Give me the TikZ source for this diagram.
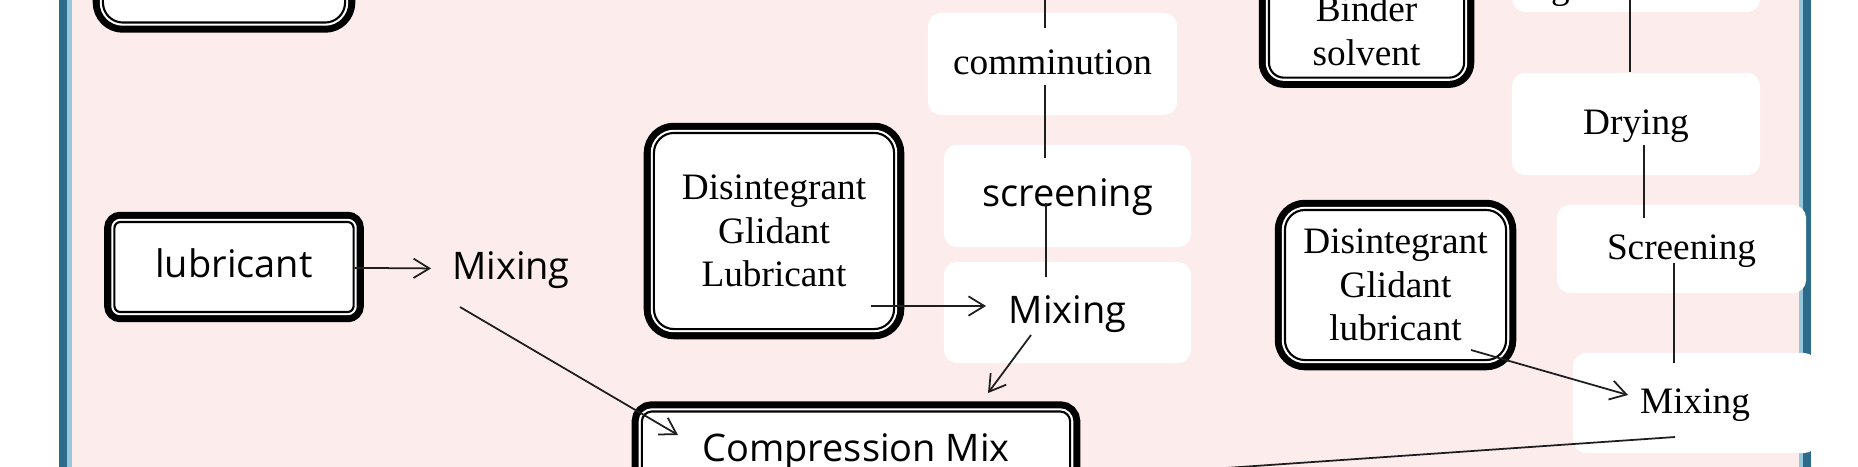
\documentclass[tikz,border=0pt]{standalone}
\usepackage{fontspec}
\setmainfont{Liberation Serif}
\newfontfamily\mixsans{Open Sans}
\usetikzlibrary{arrows.meta,calc}

\definecolor{framedark}{RGB}{44,108,138}
\definecolor{framelight}{RGB}{150,200,222}
\definecolor{panelpink}{RGB}{252,236,236}
\definecolor{ink}{RGB}{30,30,30}

\begin{document}
\begin{tikzpicture}[x=0.01cm,y=-0.01cm,
  serif/.style={font=\fontsize{10.6}{12.4}\selectfont},
  sans/.style={font=\mixsans\fontsize{10.8}{13}\selectfont},
  oneline/.style={text height=0.75em,text depth=0.15em},
  ingredient/.style={fill=white,draw=black,line width=0.6pt,
    preaction={draw=black,line width=5.8pt},
    preaction={draw=white,line width=1.8pt},
    rounded corners=#1,align=center},
  ingredient/.default=0.15cm,
  stage/.style={fill=white,rounded corners=0.13cm,inner sep=0pt,
    minimum width=2.48cm,minimum height=1.02cm},
  link/.style={draw=ink,line width=0.5pt},
  flow/.style={link,-{Straight Barb[length=4.5pt,width=5.5pt]}}]
  \useasboundingbox (0,0) rectangle (1858,466);
  \clip (0,0) rectangle (1858,466);

  % panel and frame
  \fill[white] (0,0) rectangle (1858,466);
  \fill[panelpink] (63,-50) rectangle (1807,520);
  \draw[framedark,line width=2.2pt] (63,-50) rectangle (1807,520);
  \draw[framelight,line width=1.3pt] (69.5,-50) rectangle (1801,520);

  % left column
  \node[ingredient=0.2cm,minimum width=2.42cm,minimum height=1.25cm] (tl) at (224,-40) {};
  \node[ingredient=0.06cm,sans,oneline,minimum width=2.39cm,minimum height=0.90cm] (lub) at (234,267) {lubricant};
  \node[sans,oneline] (mix1) at (511,269) {Mixing};

  % middle column
  \node[ingredient=0.2cm,serif,minimum width=2.40cm,minimum height=1.96cm] (dis1) at (774,231)
    {Disintegrant\\Glidant\\Lubricant};
  \node[stage,serif,oneline,minimum width=2.49cm] (comm) at (1052.5,64) {comminution};
  \node[stage,sans,oneline,minimum width=2.47cm] (scr1) at (1067.5,196) {screening};
  \node[stage,sans,oneline,minimum width=2.47cm,minimum height=1.01cm] (mix2) at (1067.5,312.5) {Mixing};
  \node[ingredient=0.1cm,sans,oneline,minimum width=4.28cm,minimum height=0.79cm] (comp) at (856,451)
    {Compression Mix};

  % right column
  \node[ingredient=0.15cm,serif,minimum width=1.95cm,minimum height=0.75cm] (binder) at (1366.5,31)
    {Binder\\solvent};
  \node[stage] (granbox) at (1636,-39) {};
  \node[serif,anchor=base] (gran) at (1636,-2) {granulation};
  \node[stage,serif,oneline] (dry) at (1636,124) {Drying};
  \node[stage,serif,oneline,minimum width=2.49cm,minimum height=0.88cm] (scr2) at (1681.5,249) {Screening};
  \node[ingredient=0.2cm,serif,minimum width=2.21cm,minimum height=1.50cm] (dis2) at (1395.5,285)
    {Disintegrant\\Glidant\\lubricant};
  \node[stage,serif,oneline,minimum width=2.44cm,minimum height=1.00cm] (mix3) at (1695,403) {Mixing};

  % connectors
  \coordinate (feed) at (1045,-20);
  \draw[link] (feed) -- ($(comm.center)+(-7.5,-36)$);
  \draw[link] ($(comm.center)+(-7.5,21)$) -- ($(scr1.center)+(-22.5,-38)$);
  \draw[link] ($(scr1.center)+(-21.5,7)$) -- ($(mix2.center)+(-21.5,-35.5)$);
  \draw[flow,shorten >=2.5pt] (lub) -- (mix1);
  \draw[flow] ($(mix1.center)+(-51,38)$) -- ($(comp.center)+(-178,-16)$);
  \draw[flow] ($(dis1.center)+(97,75)$) -- ($(mix2.center)+(-81.5,-6.5)$);
  \draw[flow] ($(mix2.center)+(-36.5,22.5)$) -- ($(comp.center)+(132,-58)$);
  \draw[link] ($(granbox.center)+(-6,19)$) -- ($(dry.center)+(-6,-52)$);
  \draw[link] ($(dry.center)+(8,21)$) -- ($(scr2.center)+(-37.5,-31)$);
  \draw[link] ($(scr2.center)+(-7.5,14)$) -- ($(mix3.center)+(-21,-40)$);
  \draw[flow] ($(dis2.center)+(75.5,65)$) -- ($(mix3.center)+(-67,-8)$);
  \draw[link] ($(mix3.center)+(-20,34)$) -- ($(comp.center)+(225,27)$);
\end{tikzpicture}
\end{document}
